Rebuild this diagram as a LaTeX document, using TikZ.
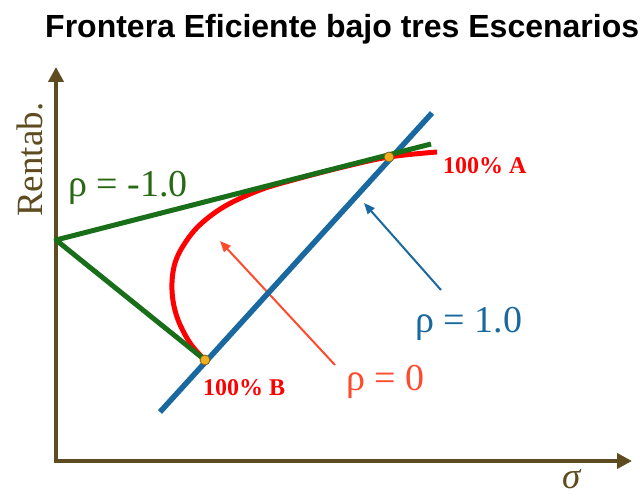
\documentclass[tikz,border=0pt]{standalone}
\usepackage{fontspec}
\setmainfont{Liberation Serif}
\newfontfamily\titlefont{Liberation Sans}
\usetikzlibrary{arrows.meta}
\definecolor{axbrown}{RGB}{94,75,32}
\definecolor{lgreen}{RGB}{25,110,25}
\definecolor{tgreen}{RGB}{40,105,20}
\definecolor{lblue}{RGB}{25,105,160}
\definecolor{lred}{RGB}{255,0,0}
\definecolor{ared}{RGB}{255,75,45}
\definecolor{dotfill}{RGB}{240,175,30}
\definecolor{dotline}{RGB}{120,95,30}
\tikzset{
  axisline/.style={draw=axbrown, line width=4.5pt, line join=miter,
    {Triangle[length=15pt,width=15pt]}-{Triangle[length=15pt,width=15pt]}},
  greenline/.style={draw=lgreen, line width=5pt, line join=round},
  redcurve/.style={draw=lred, line width=5pt},
  blueline/.style={draw=lblue, line width=5.5pt},
  thinarrow/.style={line width=2pt, -{Triangle[length=11pt,width=9pt]}},
  pt/.style={circle, fill=dotfill, draw=dotline, line width=0.8pt, inner sep=0pt, minimum size=10pt},
  lbl/.style={inner sep=0pt, anchor=base west},
}
\begin{document}
\begin{tikzpicture}[x=1pt, y=-1pt]
\useasboundingbox (0,0) rectangle (640,497);
% title
\node[lbl] (title) at (45,38) {\titlefont\bfseries\fontsize{32}{36}\selectfont Frontera Eficiente bajo tres Escenarios};
% coordinates
\coordinate (O) at (56,461);
\coordinate (Ytip) at (56,67);
\coordinate (Xtip) at (632,461);
\coordinate (M) at (56,240);
\coordinate (A) at (389,157);
\coordinate (B) at (205,360);
\coordinate (Gend) at (431,144);
\coordinate (Rend) at (437,152);
\coordinate (Bl1) at (160,412);
\coordinate (Bl2) at (432,113);
\coordinate (RaTail) at (335,365);
\coordinate (RaTip) at (220,241);
\coordinate (BaTail) at (441,290);
\coordinate (BaTip) at (364,203);
% thin arrows
\draw[thinarrow, ared] (RaTail) -- (RaTip);
\draw[thinarrow, lblue] (BaTail) -- (BaTip);
% axes
\draw[axisline] (Ytip) -- (O) -- (Xtip);
% blue line
\draw[blueline] (Bl1) -- (Bl2);
% red curve
\draw[redcurve] plot[smooth, tension=0.6] coordinates {(205,360) (190,343) (177,317) (172,290) (175,263) (187,240) (203,222) (227,205) (260,190) (293,180) (343,167) (389,157) (437,152)};
% green lines
\draw[greenline] (Gend) -- (M) -- (B);
% points
\node[pt] (PA) at (A) {};
\node[pt] (PB) at (B) {};
% labels
\node[lbl, rotate=90, text=axbrown] (ylab) at (42,217) {\fontsize{37}{40}\selectfont Rentab.};
\node[lbl, text=axbrown] (xlab) at (562,488) {\fontsize{37}{40}\selectfont\itshape σ};
\node[lbl, text=tgreen] (rm1) at (68,197) {\fontsize{38}{42}\selectfont ρ = -1.0};
\node[lbl, text=lblue] (rp1) at (415,332) {\fontsize{38}{42}\selectfont ρ = 1.0};
\node[lbl, text=ared] (r0) at (346,390) {\fontsize{38}{42}\selectfont ρ = 0};
\node[lbl, text=lred] (la) at (443,174) {\fontsize{24}{28}\selectfont\bfseries 100\% A};
\node[lbl, text=lred] (lb) at (203,395) {\fontsize{24}{28}\selectfont\bfseries 100\% B};
\end{tikzpicture}
\end{document}
